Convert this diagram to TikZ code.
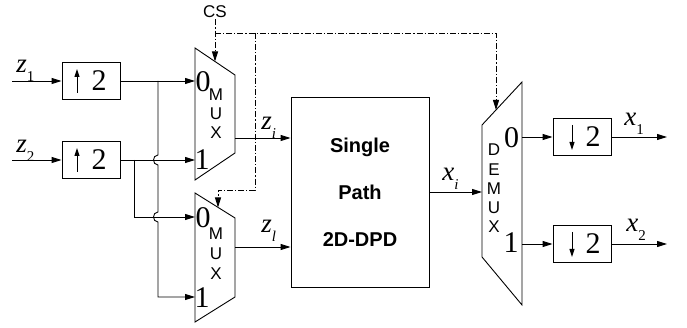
\documentclass[tikz,border=0pt]{standalone}
\usepackage{fontspec}
\setmainfont{Liberation Serif}
\setsansfont{Liberation Sans}
\usetikzlibrary{arrows.meta}
\newcommand\vsub[2]{\textit{#1}\raisebox{-9pt}{\fontsize{15}{15}\selectfont #2}}
\begin{document}
\begin{tikzpicture}[x=1pt,y=-1pt,
  line width=0.9pt,
  sig/.style={-{Triangle[length=10pt,width=6pt]}},
  ctl/.style={-{Triangle[length=10pt,width=6pt]}, dash pattern=on 6pt off 2pt on 1.2pt off 2pt},
  glyph/.style={-{Triangle[length=8pt,width=5pt]}, line width=1pt},
  blk/.style={draw, minimum width=58pt, minimum height=37pt, inner sep=0pt},
  dig/.style={font=\fontsize{30}{30}\selectfont, inner sep=0pt},
  mlet/.style={font=\sffamily\fontsize{17}{17}\selectfont, inner sep=0pt},
  lab/.style={font=\fontsize{27}{27}\selectfont, inner sep=0pt, anchor=base west},
  dpdtext/.style={draw, minimum width=138pt, minimum height=190pt, align=center,
    font=\sffamily\bfseries\fontsize{20}{47}\selectfont},
  cstext/.style={font=\sffamily\fontsize{17}{17}\selectfont, inner sep=1pt},
]
\useasboundingbox (0,0) rectangle (687,328);

% up-samplers
\node[blk] (up1) at (91,81) {};
\node[dig] (up1n) at (99,81) {2};
\draw[glyph] (77,93) -- (77,69);
\node[blk] (up2) at (91,160) {};
\node[dig] (up2n) at (99,160) {2};
\draw[glyph] (77,172) -- (77,148);

% inputs
\coordinate (in1) at (12,81);
\coordinate (in2) at (12,160);
\draw[sig] (in1) -- (up1);
\draw[sig] (in2) -- (up2);
\node[lab] (lz1) at (16,73) {\vsub{z}{1}};
\node[lab] (lz2) at (16,153) {\vsub{z}{2}};

% MUX 1
\coordinate (m1a) at (195,48);
\coordinate (m1b) at (235,75);
\coordinate (m1c) at (235,153);
\coordinate (m1d) at (195,180);
\draw (m1a) -- (m1b) -- (m1c) -- (m1d) -- cycle;
\coordinate (m1in0) at (195,81);
\coordinate (m1in1) at (195,160);
\coordinate (m1out) at (235,138);
\coordinate (m1ctl) at (215,61.5);
\node[dig] (m1z) at (203,82) {0};
\node[dig] (m1o) at (202,160) {1};
\node[mlet] (m1M) at (216,95) {M};
\node[mlet] (m1U) at (216,114) {U};
\node[mlet] (m1X) at (216,133) {X};

% MUX 2
\coordinate (m2a) at (195,193);
\coordinate (m2b) at (235,218);
\coordinate (m2c) at (235,297);
\coordinate (m2d) at (195,322);
\draw (m2a) -- (m2b) -- (m2c) -- (m2d) -- cycle;
\coordinate (m2in0) at (195,217);
\coordinate (m2in1) at (195,297);
\coordinate (m2out) at (235,247);
\coordinate (m2ctl) at (218,207.5);
\node[dig] (m2z) at (203,218) {0};
\node[dig] (m2o) at (202,298) {1};
\node[mlet] (m2M) at (216,234) {M};
\node[mlet] (m2U) at (216,254) {U};
\node[mlet] (m2X) at (216,274) {X};

% data lines to MUXes
\coordinate (j1) at (158,81);
\coordinate (j2) at (134,160);
\draw[sig] (up1.east) -- (m1in0);
\draw[sig] (up2.east) -- (m1in1);
\draw[sig] (j1) -- (158,155) .. controls (152,155) and (152,165) .. (158,165)
  -- (158,212) .. controls (152,212) and (152,222) .. (158,222)
  -- (158,297) -- (m2in1);
\draw[sig] (j2) -- (134,217) -- (m2in0);

% DPD block
\node[dpdtext] (dpd) at (360,192) {Single\\Path\\2D-DPD};
\draw[sig] (m1out) -- (m1out -| dpd.west);
\draw[sig] (m2out) -- (m2out -| dpd.west);
\node[lab] (lzi) at (261,130) {\vsub{z}{\textit{i}}};
\node[lab] (lzl) at (261,233) {\vsub{z}{\textit{l}}};

% DEMUX
\coordinate (da) at (482,125);
\coordinate (db) at (522,82);
\coordinate (dc) at (522,305);
\coordinate (dd) at (482,257);
\draw (da) -- (db) -- (dc) -- (dd) -- cycle;
\coordinate (dmin) at (482,192);
\coordinate (dmout0) at (522,137);
\coordinate (dmout1) at (522,244);
\coordinate (dmctl) at (496,110);
\node[dig] (dz) at (511.5,137.5) {0};
\node[dig] (do) at (511,243) {1};
\node[mlet] (dD) at (494,150) {D};
\node[mlet] (dE) at (494,170) {E};
\node[mlet] (dM) at (494,189) {M};
\node[mlet] (dU) at (494,208) {U};
\node[mlet] (dX) at (494,227) {X};
\draw[sig] (dpd.east) -- (dmin);
\node[lab] (lxi) at (442,181) {\vsub{x}{\textit{i}}};

% down-samplers
\node[blk] (dn1) at (582,137) {};
\node[dig] (dn1n) at (593,137) {2};
\draw[glyph] (572,125) -- (572,150);
\node[blk] (dn2) at (582,244) {};
\node[dig] (dn2n) at (593,244) {2};
\draw[glyph] (572,232) -- (572,257);
\draw[sig] (dmout0) -- (dn1);
\draw[sig] (dmout1) -- (dn2);
\coordinate (out1) at (667,137);
\coordinate (out2) at (667,244);
\draw[sig] (dn1) -- (out1);
\draw[sig] (dn2) -- (out2);
\node[lab] (lx1) at (624,126) {\vsub{x}{1}};
\node[lab] (lx2) at (626,232) {\vsub{x}{2}};

% control
\node[cstext] (cs) at (215,12) {CS};
\coordinate (jc) at (215,33);
\coordinate (jb) at (255,33);
\draw[ctl] (cs) -- (m1ctl);
\draw[ctl] (jc) -- (496,33) -- (dmctl);
\draw[ctl] (jb) -- (255,190) -- (218,190) -- (m2ctl);
\end{tikzpicture}
\end{document}
